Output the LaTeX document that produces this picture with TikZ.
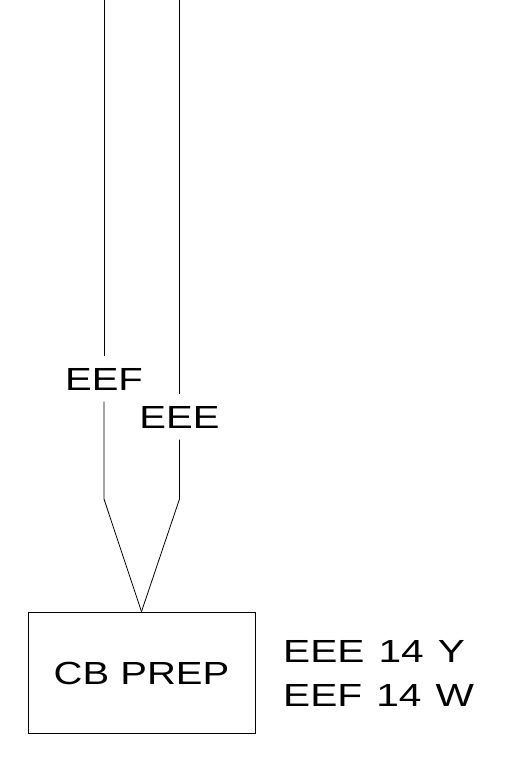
\documentclass[tikz,border=0pt]{standalone}
\usepackage{fontspec}
\setmainfont{Liberation Sans}
\newfontfamily\widefont[FakeStretch=1.25]{Liberation Sans}
\newfontfamily\notefont[FakeStretch=1.27,WordSpace=1.25]{Liberation Sans}

\begin{document}
\begin{tikzpicture}[x=1pt,y=-1pt,
    wire/.style={line width=0.8pt},
    tag/.style={font=\widefont\fontsize{32}{32}\selectfont, text height=23pt, text depth=0pt, inner xsep=2pt, inner ysep=11pt},
    prep/.style={draw, line width=0.8pt, minimum width=227pt, minimum height=121pt, inner sep=0pt,
        font=\widefont\fontsize{32}{32}\selectfont, text height=23pt, text depth=0pt},
    note/.style={anchor=base west, inner sep=0pt, font=\notefont\fontsize{32}{32}\selectfont}]

    \useasboundingbox (0,0) rectangle (522,760);

    \coordinate (topF) at (104,0);
    \coordinate (topE) at (179.5,0);
    \node[tag] (eef) at (104,379) {EEF};
    \node[tag] (eee) at (179.5,417) {EEE};
    \coordinate (bendF) at (104,499);
    \coordinate (bendE) at (179.5,499);
    \node[prep] (cb) at (141.5,672.5) {CB PREP};
    \node[note] (wireY) at (283,662) {EEE 14 Y};
    \node[note] (wireW) at (283,706) {EEF 14 W};

    \draw[wire] (topF) -- (eef);
    \draw[wire] (eef) -- (bendF) -- (cb.north);
    \draw[wire] (topE) -- (eee);
    \draw[wire] (eee) -- (bendE) -- (cb.north);

\end{tikzpicture}
\end{document}
